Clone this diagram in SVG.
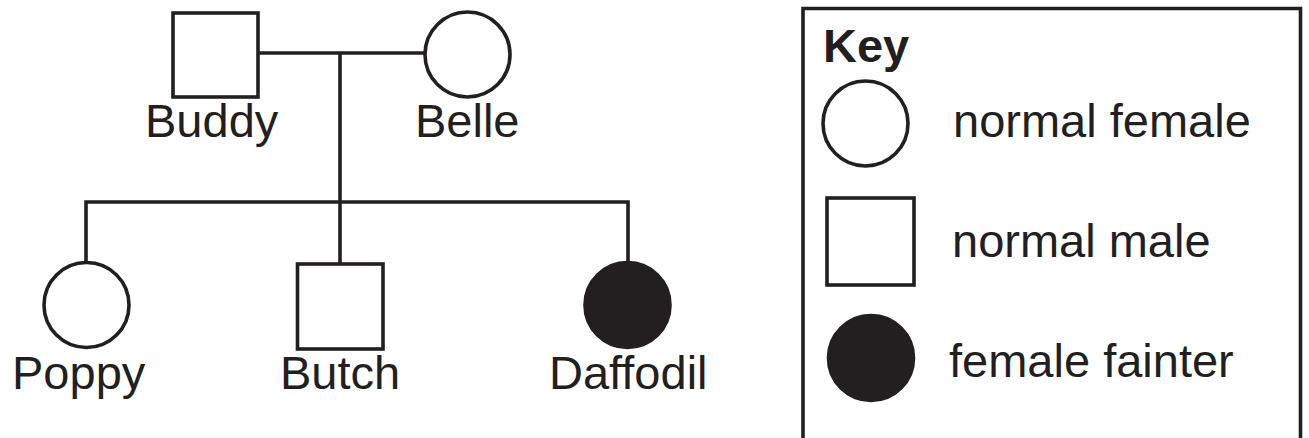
<svg xmlns="http://www.w3.org/2000/svg" width="1309" height="438" viewBox="0 0 1309 438">
<style>
.s{fill:#fff;stroke:#231f20;stroke-width:3.6}
.f{fill:#231f20;stroke:#231f20;stroke-width:3.6}
.l{fill:none;stroke:#231f20;stroke-width:3.6}
text{font-family:"Liberation Sans",Arial,sans-serif;font-size:47px;fill:#231f20}
.b{font-weight:bold}
</style>
<rect width="1309" height="438" fill="#fff"/>
<g id="connectors">
<path class="l" d="M258 53H425"/>
<path class="l" d="M340 53V264"/>
<path class="l" d="M86 262V202H628V263"/>
</g>
<g id="buddy"><rect class="s" x="173" y="13" width="85" height="84"/><text x="145" y="137">Buddy</text></g>
<g id="belle"><circle class="s" cx="467.5" cy="54.5" r="42.5"/><text x="415" y="137">Belle</text></g>
<g id="poppy"><circle class="s" cx="86.5" cy="305" r="42.5"/><text x="12" y="389">Poppy</text></g>
<g id="butch"><rect class="s" x="297.5" y="264" width="85.5" height="85"/><text x="280" y="389">Butch</text></g>
<g id="daffodil"><circle class="f" cx="627.5" cy="305" r="42.5"/><text x="549" y="389">Daffodil</text></g>
<g id="key">
<path class="l" d="M803 440V8.5H1300.5V440"/>
<text class="b" x="823" y="62">Key</text>
<circle class="s" cx="865.5" cy="123.5" r="42.5"/>
<text x="953" y="137">normal female</text>
<rect class="s" x="827" y="198" width="87" height="87"/>
<text x="952" y="257">normal male</text>
<circle class="f" cx="871" cy="358" r="42.5"/>
<text x="949" y="377">female fainter</text>
</g>
</svg>
